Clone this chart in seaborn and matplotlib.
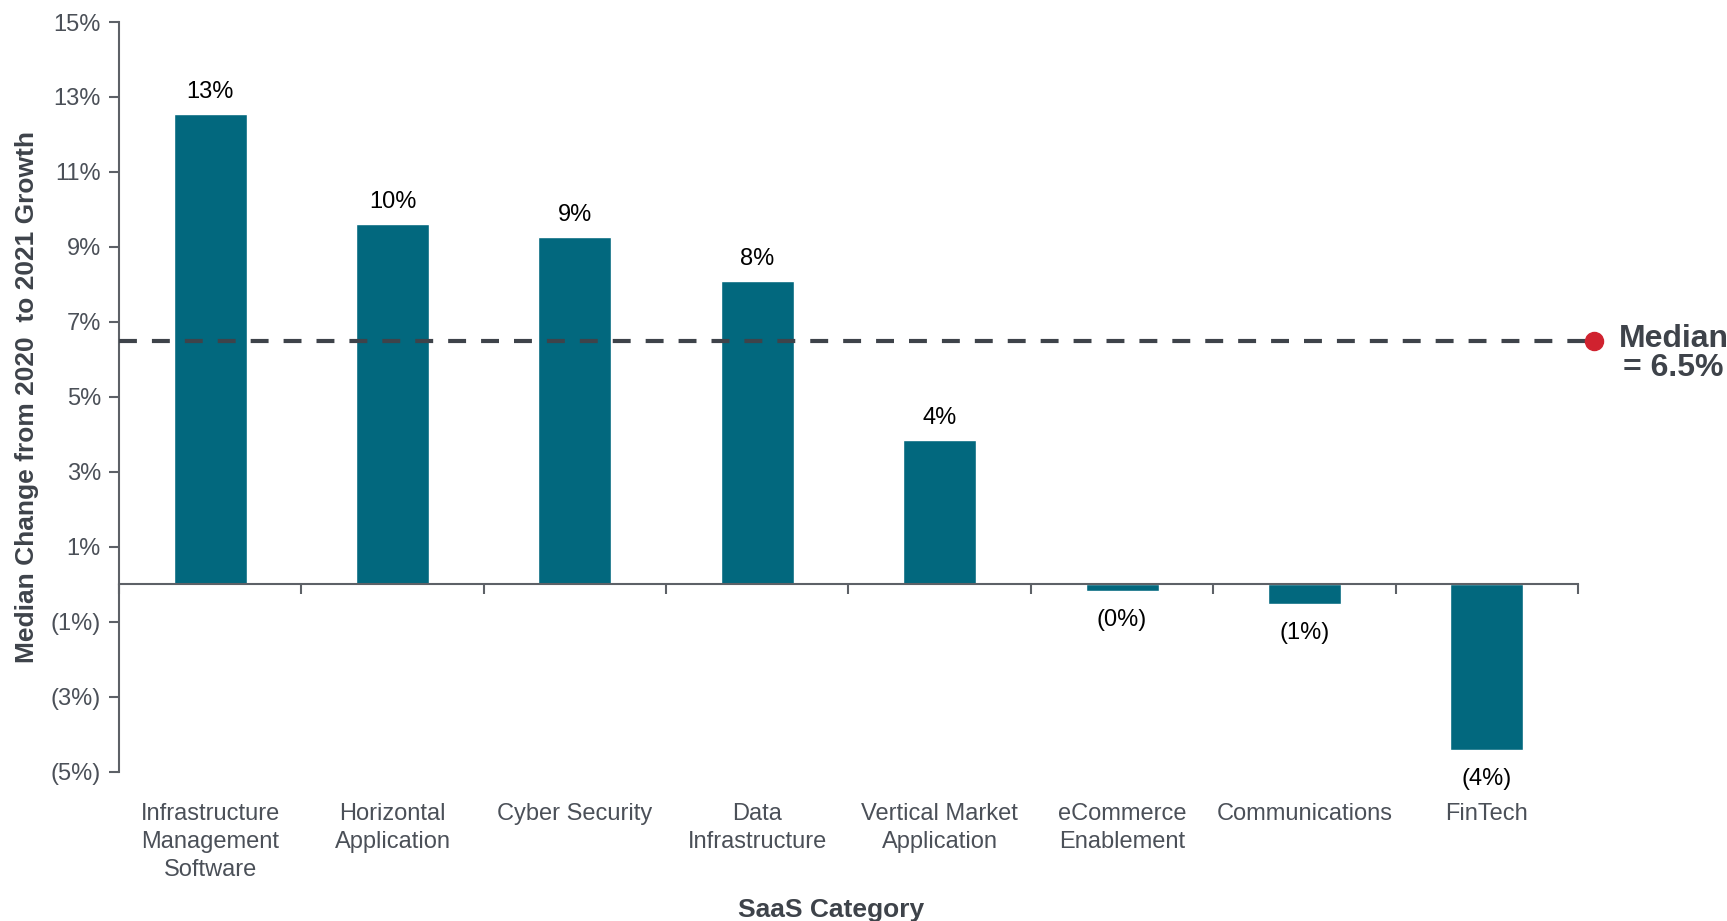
import matplotlib
matplotlib.use("Agg")
import matplotlib.pyplot as plt
import matplotlib.transforms as mtransforms
from matplotlib.ticker import FixedLocator, FuncFormatter
import seaborn as sns
import pandas as pd

# SaaS category growth change, 2020 -> 2021 (percent)
categories = [
    "Infrastructure\nManagement\nSoftware",
    "Horizontal\nApplication",
    "Cyber Security",
    "Data\nInfrastructure",
    "Vertical Market\nApplication",
    "eCommerce\nEnablement",
    "Communications",
    "FinTech",
]
growth_change = [12.55, 9.6, 9.27, 8.1, 3.84, -0.17, -0.52, -4.41]
median_value = 6.48
median_text = "Median\n= 6.5%"
y_ticks = [-5, -3, -1, 1, 3, 5, 7, 9, 11, 13, 15]

BAR = "#02687e"
AXIS = "#5d6167"
TICKTXT = "#4b5058"
DARK = "#3e434a"
RED = "#d0222f"

sns.set_theme(style="white")
plt.rcParams["font.family"] = ["Liberation Sans", "DejaVu Sans"]

df = pd.DataFrame({"category": categories, "value": growth_change})

fig = plt.figure(figsize=(17.27, 9.21), dpi=100)
ax = fig.add_axes([0.0689, 0.162, 0.8448, 0.8141])

sns.barplot(data=df, x="category", y="value", color=BAR, saturation=1,
            width=0.4, order=categories, ax=ax, zorder=2)

ax.set_xlim(-0.5, len(categories) - 0.5)
ax.set_ylim(-5, 15)

# y axis
ax.yaxis.set_major_locator(FixedLocator(y_ticks))
ax.yaxis.set_major_formatter(FuncFormatter(
    lambda v, p: f"({abs(v):.0f}%)" if v < 0 else f"{v:.0f}%"))
ax.tick_params(axis="y", direction="out", length=7, width=1.5, color=AXIS,
               labelsize=17, labelcolor=TICKTXT, pad=6, left=True)

# x axis sits on zero with ticks between categories
for s in ["top", "right"]:
    ax.spines[s].set_visible(False)
ax.spines["left"].set_color(AXIS)
ax.spines["left"].set_linewidth(1.5)
ax.spines["bottom"].set_position(("data", 0))
ax.spines["bottom"].set_color(AXIS)
ax.spines["bottom"].set_linewidth(1.5)
ax.spines["bottom"].set_zorder(3)
ax.set_xticks([i + 0.5 for i in range(-1, len(categories))])
ax.set_xticklabels([])
ax.tick_params(axis="x", direction="out", length=7, width=1.5, color=AXIS,
               bottom=True)

# category names along the bottom of the plot area
trans = mtransforms.blended_transform_factory(ax.transData, ax.transAxes)
for i, name in enumerate(categories):
    ax.text(i, -0.042, name, transform=trans, ha="center", va="top",
            fontsize=17, color=TICKTXT, linespacing=1.33)

ax.set_xlabel("")
ax.set_ylabel("Median Change from 2020  to 2021 Growth", fontsize=19,
              fontweight="bold", color=DARK)
ax.yaxis.set_label_coords(-0.055, 0.5)
fig.text(0.481, 0.004, "SaaS Category", ha="center", va="baseline",
         fontsize=19, fontweight="bold", color=DARK)

# value labels
for i, v in enumerate(growth_change):
    txt = f"({abs(v):.0f}%)" if v < 0 else f"{v:.0f}%"
    ax.annotate(txt, (i, v), xytext=(0, 8 if v >= 0 else -13),
                textcoords="offset points", ha="center",
                va="bottom" if v >= 0 else "top", fontsize=17, color="black")

# median reference line and marker
ax.plot([-0.5, 7.55], [median_value, median_value], color=DARK, lw=3,
        dashes=(4.3, 3.6), clip_on=False, zorder=4)
ax.plot([7.59], [median_value], "o", color=RED, markersize=13,
        clip_on=False, zorder=5)
ax.annotate(median_text, (7.59, median_value), xytext=(57, -9),
            textcoords="offset points", ha="center", va="center",
            multialignment="center", fontsize=23, fontweight="bold",
            color=DARK, linespacing=0.95, annotation_clip=False)

fig.savefig("out.png", dpi=100)
